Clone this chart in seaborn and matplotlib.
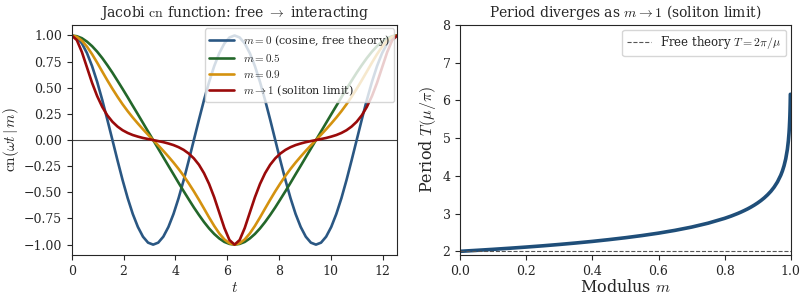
import numpy as np
import pandas as pd
import seaborn as sns
import matplotlib
matplotlib.use("Agg")
import matplotlib.pyplot as plt

# ---- data ----
t_vals = [0.000, 0.196, 0.393, 0.589, 0.785, 0.982, 1.178, 1.374, 1.571, 1.767, 1.963, 2.160,
          2.356, 2.553, 2.749, 2.945, 3.142, 3.338, 3.534, 3.731, 3.927, 4.123, 4.320, 4.516,
          4.712, 4.909, 5.105, 5.301, 5.498, 5.694, 5.890, 6.087, 6.283, 6.480, 6.676, 6.872,
          7.069, 7.265, 7.461, 7.658, 7.854, 8.050, 8.247, 8.443, 8.639, 8.836, 9.032, 9.228,
          9.425, 9.621, 9.817, 10.014, 10.210, 10.407, 10.603, 10.799, 10.996, 11.192, 11.388,
          11.585, 11.781, 11.977, 12.174, 12.370, 12.566]

cn_m0 = [1.000, 0.981, 0.924, 0.831, 0.707, 0.556, 0.383, 0.195, 0.000, -0.195, -0.383, -0.556,
         -0.707, -0.831, -0.924, -0.981, -1.000, -0.981, -0.924, -0.831, -0.707, -0.556, -0.383,
         -0.195, 0.000, 0.195, 0.383, 0.556, 0.707, 0.831, 0.924, 0.981, 1.000, 0.981, 0.924,
         0.831, 0.707, 0.556, 0.383, 0.195, 0.000, -0.195, -0.383, -0.556, -0.707, -0.831,
         -0.924, -0.981, -1.000, -0.981, -0.924, -0.831, -0.707, -0.556, -0.383, -0.195, 0.000,
         0.195, 0.383, 0.556, 0.707, 0.831, 0.924, 0.981, 1.000]

cn_m05 = [1.000, 0.993, 0.974, 0.941, 0.898, 0.845, 0.784, 0.716, 0.644, 0.567, 0.489, 0.409,
          0.327, 0.246, 0.164, 0.082, 0.000, -0.082, -0.164, -0.246, -0.327, -0.409, -0.489,
          -0.567, -0.644, -0.716, -0.784, -0.845, -0.898, -0.941, -0.974, -0.993, -1.000,
          -0.993, -0.974, -0.941, -0.898, -0.845, -0.784, -0.716, -0.644, -0.567, -0.489,
          -0.409, -0.327, -0.246, -0.164, -0.082, 0.000, 0.082, 0.164, 0.246, 0.327, 0.409,
          0.489, 0.567, 0.644, 0.716, 0.784, 0.845, 0.898, 0.941, 0.974, 0.993, 1.000]

cn_m09 = [1.000, 0.987, 0.950, 0.893, 0.821, 0.740, 0.655, 0.571, 0.490, 0.414, 0.342, 0.276,
          0.215, 0.158, 0.103, 0.051, 0.000, -0.051, -0.103, -0.158, -0.215, -0.276, -0.342,
          -0.414, -0.490, -0.571, -0.655, -0.740, -0.821, -0.893, -0.950, -0.987, -1.000,
          -0.987, -0.950, -0.893, -0.821, -0.740, -0.655, -0.571, -0.490, -0.414, -0.342,
          -0.276, -0.215, -0.158, -0.103, -0.051, 0.000, 0.051, 0.103, 0.158, 0.215, 0.276,
          0.342, 0.414, 0.490, 0.571, 0.655, 0.740, 0.821, 0.893, 0.950, 0.987, 1.000]

cn_m1 = [1.000, 0.956, 0.841, 0.694, 0.547, 0.420, 0.317, 0.236, 0.175, 0.129, 0.094, 0.068,
         0.048, 0.033, 0.020, 0.010, 0.000, -0.010, -0.020, -0.033, -0.048, -0.068, -0.094,
         -0.129, -0.175, -0.236, -0.317, -0.420, -0.547, -0.694, -0.841, -0.956, -1.000,
         -0.956, -0.841, -0.694, -0.547, -0.420, -0.317, -0.236, -0.175, -0.129, -0.094,
         -0.068, -0.048, -0.033, -0.020, -0.010, 0.000, 0.010, 0.020, 0.033, 0.048, 0.068,
         0.094, 0.129, 0.175, 0.236, 0.317, 0.420, 0.547, 0.694, 0.841, 0.956, 1.000]

curve_labels = [r'$m=0$ (cosine, free theory)', r'$m=0.5$', r'$m=0.9$',
                r'$m\to1$ (soliton limit)']
curve_colors = ['#2a5783', '#23672a', '#d4920f', '#9a0a0a']

m_vals = [0.0, 0.05, 0.1, 0.15, 0.2, 0.25, 0.3, 0.35, 0.4, 0.45, 0.5, 0.55, 0.6, 0.65, 0.7,
          0.75, 0.8, 0.82, 0.84, 0.85, 0.86, 0.87, 0.88, 0.89, 0.9, 0.91, 0.92, 0.93, 0.94,
          0.95, 0.96, 0.97, 0.975, 0.98, 0.985, 0.99, 0.993, 0.995, 0.996, 0.997, 0.9975,
          0.998, 0.9985, 0.9988, 0.999]
period_vals = [2.000, 2.026, 2.053, 2.082, 2.113, 2.146, 2.182, 2.221, 2.263, 2.310, 2.361,
               2.418, 2.482, 2.556, 2.642, 2.746, 2.874, 2.935, 3.004, 3.042, 3.083, 3.126,
               3.174, 3.226, 3.283, 3.346, 3.417, 3.498, 3.591, 3.703, 3.840, 4.018, 4.131,
               4.271, 4.451, 4.705, 4.930, 5.143, 5.284, 5.467, 5.582, 5.724, 5.906, 6.048,
               6.164]
free_period = 2.0

# long-form table for seaborn
frames = []
for lab, ys in zip(curve_labels, [cn_m0, cn_m05, cn_m09, cn_m1]):
    frames.append(pd.DataFrame({'t': t_vals, 'cn': ys, 'curve': lab}))
cn_df = pd.concat(frames, ignore_index=True)
period_df = pd.DataFrame({'m': m_vals, 'T': period_vals})

# ---- plotting ----
sns.set_style('ticks')
plt.rcParams['font.family'] = ['DejaVu Serif']
plt.rcParams['mathtext.fontset'] = 'cm'

fig = plt.figure(figsize=(8.06, 2.98), dpi=100)
ax1 = fig.add_axes([0.089, 0.144, 0.404, 0.772])
ax2 = fig.add_axes([0.571, 0.144, 0.410, 0.772])

sns.lineplot(data=cn_df, x='t', y='cn', hue='curve', hue_order=curve_labels,
             palette=curve_colors, linewidth=1.9, sort=False, ax=ax1)
ax1.axhline(0, color='#444444', linewidth=0.8, zorder=0)
ax1.set_xlim(0, 12.566)
ax1.set_ylim(-1.1, 1.1)
ax1.set_yticks([-1, -0.75, -0.5, -0.25, 0, 0.25, 0.5, 0.75, 1])
ax1.set_yticklabels([f'{v:.2f}'.replace('-', '\u2212') for v in ax1.get_yticks()])
ax1.set_xticks([0, 2, 4, 6, 8, 10, 12])
ax1.tick_params(labelsize=9)
ax1.set_xlabel(r'$t$', fontsize=11, labelpad=2)
ax1.set_ylabel(r'$\mathrm{cn}(\omega t\,|\,m)$', fontsize=11, labelpad=2)
ax1.set_title(r'Jacobi $\mathrm{cn}$ function: free $\to$ interacting', fontsize=10)
h, l = ax1.get_legend_handles_labels()
ax1.legend(h, l, loc='upper right', fontsize=8, framealpha=0.8,
           borderaxespad=0.3, handlelength=2.2, labelspacing=0.35)

sns.lineplot(data=period_df, x='m', y='T', color='#1f4e79', linewidth=2.6, ax=ax2)
ax2.axhline(free_period, color='#555555', linestyle='--', linewidth=0.8,
            label=r'Free theory $T=2\pi/\mu$')
ax2.set_xlim(0, 1)
ax2.set_ylim(1.9, 8)
ax2.tick_params(labelsize=9)
ax2.set_xlabel(r'Modulus $m$', fontsize=11.5, labelpad=1)
ax2.set_ylabel(r'Period $T(\mu/\pi)$', fontsize=11.5, labelpad=3)
ax2.set_title(r'Period diverges as $m\to1$ (soliton limit)', fontsize=10)
ax2.legend(loc='upper right', fontsize=8.5, framealpha=0.8, borderaxespad=0.4)

fig.savefig('out.png', dpi=100)
